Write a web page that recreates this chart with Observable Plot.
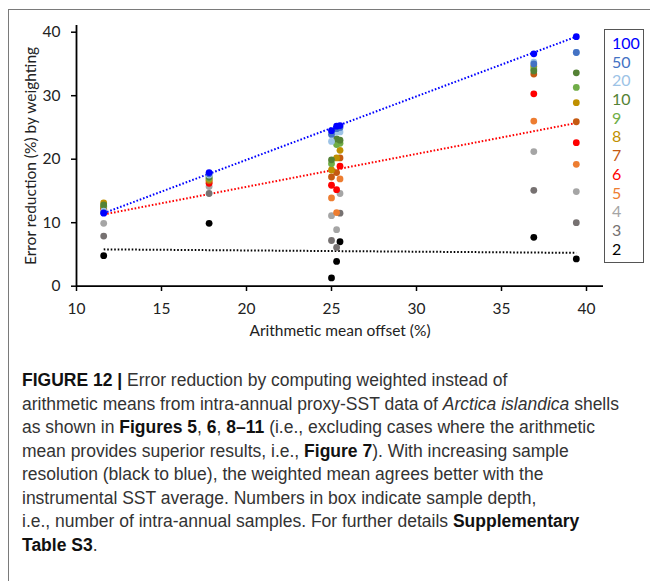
<!DOCTYPE html>
<html>
<head>
<meta charset="utf-8">
<script src="https://cdn.jsdelivr.net/npm/d3@7"></script>
<script src="https://cdn.jsdelivr.net/npm/@observablehq/plot@0.6"></script>
<style>
  html, body { margin: 0; padding: 0; background: #fff; }
  #page { position: relative; width: 650px; height: 581px; overflow: hidden; background: #fff; }
  #frame { position: absolute; left: 8px; top: 9px; width: 660px; height: 600px;
           border-left: 1.5px solid #7a7a7a; border-top: 1.5px solid #7a7a7a; }
  #chart { position: absolute; left: 0; top: 0; }
  #legend { position: absolute; left: 604px; top: 29px; width: 40px; height: 234px;
            border: 1px solid #555; box-sizing: border-box; font-family: Lato, sans-serif;
            font-size: 16px; padding-top: 4px; }
  #legend div { height: 18.7px; line-height: 18.7px; padding-left: 7px; }
  #caption { position: absolute; left: 22px; top: 369px; font-family: "Liberation Sans", Arial, sans-serif;
             font-size: 17.5px; line-height: 23.5px; color: #333; white-space: nowrap; }
  #caption b { color: #111; }
</style>
</head>
<body>
<div id="page">
  <div id="frame"></div>
  <div id="chart"></div>
  <div id="legend"></div>
  <div id="caption"></div>
</div>
<script>
// ---- data ----
const xOffsets = [11.6, 17.8, 25.0, 25.3, 25.5, 36.9, 39.4];
const depths = ["2", "3", "4", "5", "6", "7", "8", "9", "10", "20", "50", "100"];
const depthColors = ["#000000", "#767171", "#A5A5A5", "#ED7D31", "#FF0000", "#C55A11",
                     "#BF9000", "#70AD47", "#548235", "#9DC3E6", "#4472C4", "#0000FF"];
const depth2   = [4.8, 9.9, 1.3, 3.9, 7.0, 7.7, 4.3];
const depth3   = [7.9, 14.6, 7.2, 6.1, 11.5, 15.1, 10.0];
const depth4   = [9.9, 15.7, 11.1, 8.9, 14.6, 21.2, 14.9];
const depth5   = [12.3, 16.4, 13.9, 11.6, 16.9, 26.0, 19.2];
const depth6   = [12.1, 16.2, 15.9, 15.2, 18.9, 30.3, 22.6];
const depth7   = [12.4, 16.6, 17.2, 17.9, 20.2, 33.4, 25.9];
const depth8   = [13.1, 16.8, 18.3, 20.2, 21.4, 34.6, 28.9];
const depth9   = [12.6, 17.0, 19.3, 22.3, 22.5, 34.2, 31.3];
const depth10  = [12.8, 17.2, 19.9, 23.2, 23.0, 33.9, 33.6];
const depth20  = [11.8, 17.5, 22.8, 24.3, 24.3, 35.3, 36.8];
const depth50  = [11.6, 17.7, 23.9, 24.8, 25.0, 35.0, 36.8];
const depth100 = [11.5, 17.9, 24.5, 25.2, 25.3, 36.6, 39.3];
const seriesValues = [depth2, depth3, depth4, depth5, depth6, depth7, depth8, depth9, depth10, depth20, depth50, depth100];

// dotted trend lines (end points)
const trendX = [11.6, 39.4];
const trendBlue = [11.5, 39.3];
const trendRed = [11.3, 25.7];
const trendBlack = [5.8, 5.25];

const xTicks = [10, 15, 20, 25, 30, 35, 40];
const yTicks = [0, 10, 20, 30, 40];
const xLabel = "Arithmetic mean offset (%)";
const yLabel = "Error reduction (%) by weighting";

// ---- build tables ----
const points = [];
depths.forEach((d, i) => {
  seriesValues[i].forEach((v, j) => points.push({depth: d, x: xOffsets[j], y: v}));
});
const trend = (ys) => trendX.map((x, i) => ({x, y: ys[i]}));
const dotted = {x: "x", y: "y", strokeWidth: 2, strokeDasharray: "1.6 1.9", strokeLinecap: "butt"};

const plot = Plot.plot({
  width: 650,
  height: 350,
  marginLeft: 76,
  marginRight: 47,
  marginTop: 25,
  marginBottom: 64,
  x: {domain: [10, 41], range: [76, 603]},
  y: {domain: [0, 41], range: [285.7, 25.35]},
  color: {domain: depths, range: depthColors},
  style: {fontFamily: "Lato, sans-serif", fontSize: "15.5px", color: "#222", background: "transparent"},
  marks: [
    Plot.axisX({ticks: xTicks, tickSize: 5, tickPadding: 11, stroke: "#000", strokeWidth: 1.5,
                label: xLabel, labelAnchor: "center", labelArrow: "none", labelOffset: 49, fontSize: 15.5}),
    Plot.axisY({ticks: yTicks, tickSize: 5, tickPadding: 11, stroke: "#000", strokeWidth: 1.5,
                label: yLabel, labelAnchor: "center", labelArrow: "none", labelOffset: 52, fontSize: 15.5}),
    Plot.ruleY([0], {stroke: "#000", strokeWidth: 1.8}),
    Plot.ruleX([10], {stroke: "#000", strokeWidth: 1.8}),
    Plot.line(trend(trendBlack), {...dotted, stroke: "#000"}),
    Plot.line(trend(trendRed), {...dotted, stroke: "#FF0000"}),
    Plot.line(trend(trendBlue), {...dotted, stroke: "#0000FF"}),
    Plot.dot(points, {x: "x", y: "y", fill: "depth", r: 3.4, stroke: "none"})
  ]
});
document.getElementById("chart").appendChild(plot);

// legend (top entry = largest depth)
const legend = document.getElementById("legend");
depths.slice().reverse().forEach((d) => {
  const div = document.createElement("div");
  div.textContent = d;
  div.style.color = depthColors[depths.indexOf(d)];
  legend.appendChild(div);
});

// caption
document.getElementById("caption").innerHTML =
  "<b>FIGURE 12 |</b> Error reduction by computing weighted instead of<br>" +
  "arithmetic means from intra-annual proxy-SST data of <i>Arctica islandica</i> shells<br>" +
  "as shown in <b>Figures 5</b>, <b>6</b>, <b>8–11</b> (i.e., excluding cases where the arithmetic<br>" +
  "mean provides superior results, i.e., <b>Figure 7</b>). With increasing sample<br>" +
  "resolution (black to blue), the weighted mean agrees better with the<br>" +
  "instrumental SST average. Numbers in box indicate sample depth,<br>" +
  "i.e., number of intra-annual samples. For further details <b>Supplementary<br>" +
  "Table S3</b>.";
</script>
</body>
</html>
